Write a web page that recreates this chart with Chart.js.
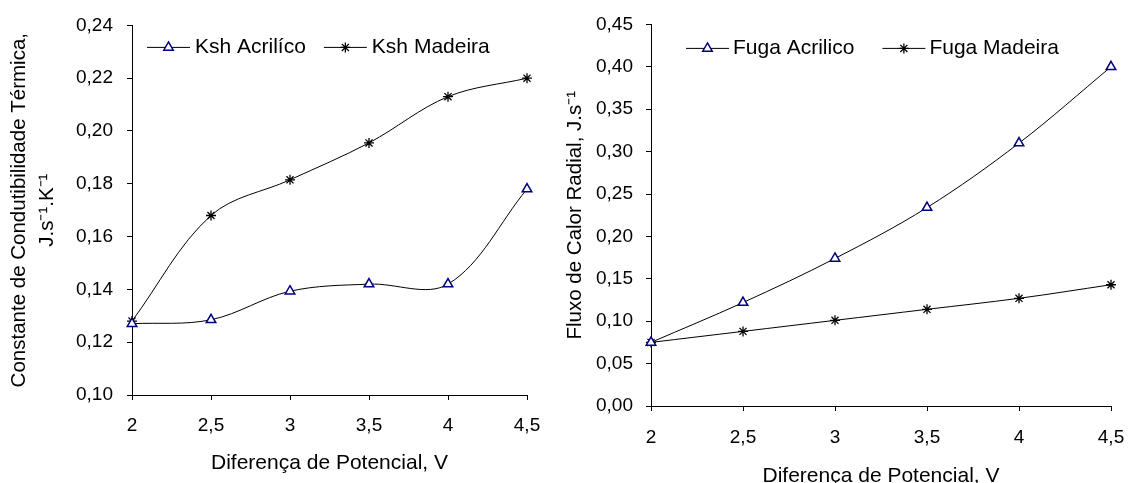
<!DOCTYPE html>
<html>
<head>
<meta charset="utf-8">
<script src="https://cdn.jsdelivr.net/npm/chart.js@4.4.0/dist/chart.umd.min.js"></script>
<style>
  html, body { margin: 0; padding: 0; background: #fff; overflow: hidden; width: 1129px; height: 483px; }
  .box { position: absolute; top: 0; }
  #left { left: 0; width: 560px; height: 483px; }
  #right { left: 560px; width: 600px; height: 500px; }
</style>
</head>
<body>
<div class="box" id="left"><canvas id="kshChart" width="560" height="483"></canvas></div>
<div class="box" id="right"><canvas id="fugaChart" width="600" height="500"></canvas></div>
<script>
// potential difference (V)
const voltages = [2, 2.5, 3, 3.5, 4, 4.5];

// thermal conductivity constant, J.s-1.K-1
const kshAcrilico = [0.127, 0.1285, 0.1393, 0.142, 0.142, 0.178];
const kshMadeira = [0.128, 0.168, 0.1815, 0.1955, 0.213, 0.220];
const kshTicks = [0.10, 0.12, 0.14, 0.16, 0.18, 0.20, 0.22, 0.24];

// radial heat flux, J.s-1
const fugaAcrilico = [0.075, 0.122, 0.174, 0.234, 0.310, 0.400];
const fugaMadeira = [0.075, 0.088, 0.101, 0.114, 0.127, 0.143];
const fugaTicks = [0, 0.05, 0.10, 0.15, 0.20, 0.25, 0.30, 0.35, 0.40, 0.45];

const FONT = "'Liberation Sans', Arial, sans-serif";
const comma = (v, d) => v.toFixed(d).replace('.', ',');
const points = values => values.map((y, i) => ({ x: voltages[i], y }));

// legend drawn inside the plot area, Excel style
const inlineLegend = {
  id: 'inlineLegend',
  afterDraw(chart, args, opts) {
    const ctx = chart.ctx;
    const area = chart.chartArea;
    let x = area.left + opts.x;
    const y = area.top + opts.y;
    ctx.save();
    ctx.font = opts.size + 'px ' + FONT;
    ctx.textBaseline = 'middle';
    ctx.textAlign = 'left';
    chart.data.datasets.forEach(ds => {
      ctx.strokeStyle = ds.borderColor;
      ctx.lineWidth = 1;
      ctx.beginPath();
      ctx.moveTo(x, y);
      ctx.lineTo(x + opts.line, y);
      ctx.stroke();
      ctx.strokeStyle = ds.pointBorderColor;
      ctx.fillStyle = ds.pointBackgroundColor;
      ctx.lineWidth = ds.pointBorderWidth;
      Chart.helpers.drawPoint(ctx, {
        pointStyle: ds.pointStyle, radius: ds.pointRadius, rotation: 0, borderWidth: ds.pointBorderWidth
      }, x + opts.line / 2, y);
      ctx.fillStyle = '#000';
      ctx.fillText(ds.label, x + opts.line + opts.textGap, y);
      x += opts.line + opts.textGap + ctx.measureText(ds.label).width + opts.gap;
    });
    ctx.restore();
  }
};

const acrylicStyle = {
  borderColor: '#000', borderWidth: 1, tension: 0.35, clip: false,
  pointStyle: 'triangle', pointRadius: 5.5, pointBorderColor: '#000080',
  pointBackgroundColor: '#fff', pointBorderWidth: 1.5
};
const woodStyle = {
  borderColor: '#000', borderWidth: 1, tension: 0.35, clip: false,
  pointStyle: 'star', pointRadius: 5, pointBorderColor: '#000',
  pointBackgroundColor: '#000', pointBorderWidth: 1.3
};

function makeChart(id, cfg) {
  return new Chart(document.getElementById(id), {
    type: 'line',
    data: {
      datasets: [
        Object.assign({ label: cfg.labels[0], data: points(cfg.series[0]) }, acrylicStyle),
        Object.assign({ label: cfg.labels[1], data: points(cfg.series[1]) }, woodStyle)
      ]
    },
    options: {
      responsive: false,
      animation: false,
      layout: { padding: cfg.padding },
      plugins: {
        legend: { display: false },
        tooltip: { enabled: false },
        inlineLegend: cfg.legend
      },
      scales: {
        x: {
          type: 'linear',
          min: voltages[0],
          max: voltages[voltages.length - 1],
          afterBuildTicks: s => { s.ticks = voltages.map(v => ({ value: v })); },
          afterFit: s => { s.height = cfg.xHeight; },
          ticks: {
            color: '#000', padding: cfg.xPad, maxRotation: 0, autoSkip: false,
            font: { family: FONT, size: 19 },
            callback: v => String(v).replace('.', ',')
          },
          grid: { drawOnChartArea: false, drawTicks: true, tickLength: 5, color: '#000' },
          border: { color: '#000', width: 1 },
          title: {
            display: true, text: 'Diferença de Potencial, V', color: '#000',
            font: { family: FONT, size: 21, lineHeight: '24px' },
            padding: { top: 0, bottom: cfg.xTitlePad }
          }
        },
        y: {
          min: cfg.yTicks[0],
          max: cfg.yTicks[cfg.yTicks.length - 1],
          afterBuildTicks: s => { s.ticks = cfg.yTicks.map(v => ({ value: v })); },
          afterFit: s => { s.width = cfg.yWidth; },
          ticks: {
            color: '#000', padding: cfg.yPad, autoSkip: false,
            font: { family: FONT, size: 19 },
            callback: v => comma(v, 2)
          },
          grid: { drawOnChartArea: false, drawTicks: true, tickLength: 5, color: '#000' },
          border: { color: '#000', width: 1 },
          title: {
            display: true, text: cfg.yTitle, color: '#000',
            font: { family: FONT, size: 20.5, lineHeight: cfg.yTitleLine },
            padding: { top: cfg.yTitlePad, bottom: 0 }
          }
        }
      }
    },
    plugins: [inlineLegend]
  });
}

makeChart('kshChart', {
  labels: ['Ksh Acrilíco', 'Ksh Madeira'],
  series: [kshAcrilico, kshMadeira],
  yTicks: kshTicks,
  yTitle: ['Constante de Condutibilidade Térmica,', 'J.s\u207B\u00B9.K\u207B\u00B9'],
  yTitleLine: '28px',
  yTitlePad: 5,
  padding: { top: 25, right: 33, bottom: 0, left: 0 },
  yWidth: 132,
  xHeight: 88,
  xPad: 14,
  yPad: 14,
  xTitlePad: 8,
  legend: { x: 15, y: 22, line: 43, textGap: 5, gap: 18, size: 21 }
});

makeChart('fugaChart', {
  labels: ['Fuga Acrilico', 'Fuga Madeira'],
  series: [fugaAcrilico, fugaMadeira],
  yTicks: fugaTicks,
  yTitle: 'Fluxo de Calor Radial, J.s\u207B\u00B9',
  yTitleLine: '24px',
  yTitlePad: 3,
  padding: { top: 19, right: 49, bottom: 0, left: 0 },
  yWidth: 91,
  xHeight: 94,
  xPad: 15,
  yPad: 13,
  xTitlePad: 12,
  legend: { x: 35, y: 24, line: 43, textGap: 4, gap: 28, size: 21 }
});
</script>
</body>
</html>
